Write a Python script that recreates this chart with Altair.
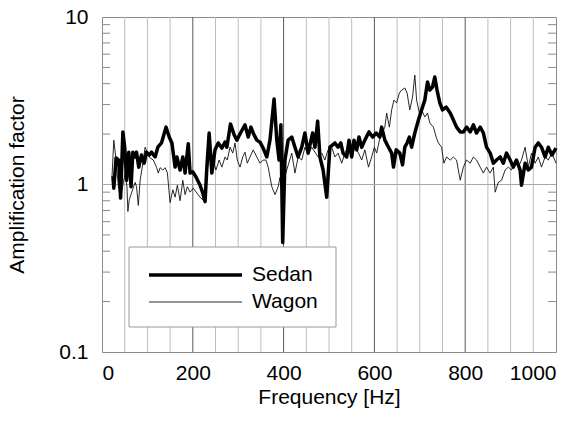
import altair as alt
import pandas as pd

# ---------------- data ----------------
sedan_hz = [24, 26, 31, 37, 41, 46, 50, 54, 59, 64, 68, 73, 76, 81, 87, 93, 98, 104, 109, 117,
            123, 131, 141, 148, 154, 161, 165, 172, 178, 183, 190, 194, 200, 207, 216, 222, 227, 231, 236, 242,
            249, 256, 264, 271, 275, 283, 291, 297, 305, 315, 322, 328, 333, 341, 348, 355, 363, 370, 379, 385,
            390, 394, 398, 403, 410, 418, 425, 432, 440, 447, 454, 464, 469, 475, 480, 487, 495, 502, 513, 520,
            526, 531, 539, 544, 550, 555, 561, 566, 572, 579, 588, 596, 604, 612, 616, 623, 631, 638, 642, 648,
            656, 662, 667, 672, 677, 682, 689, 697, 704, 711, 717, 722, 728, 733, 738, 744, 750, 758, 767, 774,
            781, 789, 796, 803, 811, 818, 825, 833, 840, 847, 855, 862, 869, 877, 884, 891, 899, 906, 913, 921,
            924, 932, 939, 946, 954, 961, 968, 976, 983, 991, 1000]
sedan_amp = [1.12, 0.95, 1.44, 1.40, 0.83, 2.06, 1.67, 1.06, 1.56, 0.97, 1.56, 1.46, 1.56, 1.27, 1.50, 1.34, 1.56, 1.50, 1.56, 1.46,
             1.67, 1.77, 2.20, 1.92, 1.77, 1.27, 1.46, 1.22, 1.46, 1.17, 1.75, 1.17, 1.19, 1.11, 0.99, 0.89, 0.79, 1.27, 2.03, 1.17,
             1.61, 1.77, 1.65, 1.79, 1.67, 2.30, 1.98, 1.84, 2.03, 2.27, 1.92, 2.20, 2.03, 1.84, 1.79, 1.65, 1.46, 1.84, 3.24, 1.84,
             1.40, 2.27, 0.45, 1.40, 1.84, 1.92, 1.67, 1.46, 1.67, 2.03, 1.54, 2.03, 1.67, 2.39, 1.46, 1.22, 0.84, 1.67, 1.77, 1.67,
             1.77, 1.54, 1.46, 1.84, 1.46, 1.84, 1.61, 1.92, 1.67, 1.84, 2.06, 1.92, 2.03, 1.92, 2.20, 1.84, 1.67, 1.54, 1.27, 1.61,
             1.54, 1.31, 1.67, 1.77, 1.92, 1.67, 2.03, 2.43, 2.79, 3.19, 4.09, 3.66, 3.82, 4.38, 3.66, 3.07, 2.79, 2.90, 2.67, 2.43,
             2.20, 2.06, 2.06, 2.20, 2.06, 2.27, 2.03, 2.20, 2.03, 1.67, 1.54, 1.34, 1.40, 1.46, 1.34, 1.54, 1.40, 1.27, 1.40, 1.22,
             0.99, 1.34, 1.22, 1.27, 1.67, 1.77, 1.67, 1.46, 1.67, 1.50, 1.65]

wagon_hz = [22, 26, 31, 36, 41, 51, 55, 57, 60, 65, 73, 76, 80, 84, 90, 95, 100, 106, 113, 120,
            124, 128, 134, 139, 144, 148, 150, 156, 161, 166, 172, 178, 183, 188, 194, 201, 209, 216, 222, 229,
            238, 244, 251, 258, 264, 271, 276, 282, 288, 293, 298, 304, 310, 315, 320, 326, 333, 341, 348, 355,
            361, 366, 374, 381, 388, 392, 398, 404, 410, 418, 425, 432, 440, 447, 454, 462, 469, 476, 484, 491,
            498, 506, 513, 520, 528, 535, 542, 550, 557, 565, 572, 579, 587, 594, 600, 605, 611, 617, 623, 627,
            633, 638, 643, 649, 655, 660, 667, 672, 678, 684, 689, 693, 699, 704, 711, 717, 722, 730, 736, 741,
            748, 753, 759, 767, 774, 781, 789, 796, 803, 811, 818, 825, 833, 840, 847, 855, 862, 866, 873, 880,
            888, 895, 902, 910, 917, 924, 932, 939, 946, 954, 961, 968, 976, 983, 991, 1000]
wagon_amp = [1.11, 1.84, 1.40, 0.97, 0.84, 1.17, 0.97, 0.69, 0.81, 0.89, 1.03, 0.97, 0.75, 1.06, 1.34, 1.67, 1.54, 1.44, 1.40, 1.27,
             1.17, 1.26, 1.22, 1.26, 1.17, 0.89, 0.78, 0.93, 0.84, 0.99, 0.80, 1.06, 0.87, 0.97, 0.90, 0.95, 0.89, 0.84, 0.81, 1.06,
             1.67, 1.40, 1.22, 1.40, 1.27, 1.46, 1.40, 1.67, 1.54, 1.77, 1.40, 1.27, 1.46, 1.56, 1.34, 1.46, 1.61, 1.46, 1.34, 1.40,
             1.40, 1.27, 0.97, 0.87, 0.97, 1.10, 0.80, 1.15, 1.30, 1.54, 1.17, 1.46, 1.40, 1.67, 1.50, 1.67, 1.56, 1.46, 1.54, 1.40,
             1.61, 1.67, 1.46, 1.54, 1.34, 1.54, 1.67, 1.46, 1.67, 1.54, 1.40, 1.61, 1.27, 1.46, 1.67, 1.54, 1.84, 2.03, 2.20, 2.67,
             2.20, 2.79, 3.19, 3.07, 3.52, 3.66, 3.77, 3.52, 2.79, 3.33, 4.50, 3.19, 2.67, 2.79, 2.53, 2.67, 2.33, 2.20, 1.92, 1.77,
             1.67, 1.34, 1.46, 1.40, 1.46, 1.40, 1.06, 1.27, 1.40, 1.34, 1.46, 1.40, 1.27, 1.17, 1.27, 1.17, 1.27, 0.90, 1.03, 1.06,
             1.22, 1.27, 1.22, 1.40, 1.27, 1.40, 1.67, 1.27, 1.54, 1.34, 1.46, 1.27, 1.46, 1.40, 1.54, 1.34]

grid_minor = [50, 100, 150, 250, 300, 350, 450, 500, 550, 650, 700, 750, 850, 900, 950]
grid_major = [200, 400, 600, 800]
x_tick_values = [0, 200, 400, 600, 800, 1000]
y_tick_values = [0.1, 1, 10]
y_minor = [0.2, 0.3, 0.4, 0.5, 0.6, 0.7, 0.8, 0.9, 2, 3, 4, 5, 6, 7, 8, 9]
legend_labels = ["Sedan", "Wagon"]

assert len(sedan_hz) == len(sedan_amp)
assert len(wagon_hz) == len(wagon_amp)

sedan_df = pd.DataFrame({"freq": sedan_hz, "amp": sedan_amp})
wagon_df = pd.DataFrame({"freq": wagon_hz, "amp": wagon_amp})

FONT = "Liberation Sans"
W, H = 454, 335

x_scale = alt.Scale(domain=[0, 1000], nice=False, zero=False)
y_scale = alt.Scale(type="log", domain=[0.1, 10], nice=False)

x_axis = alt.Axis(values=x_tick_values, format="d", title="Frequency [Hz]", ticks=False, domain=False,
                  grid=False, labelFontSize=21, labelFont=FONT, labelColor="#000", labelPadding=10,
                  titleFontSize=21, titleFont=FONT, titleFontWeight="normal", titleColor="#000",
                  titlePadding=3)
y_axis = alt.Axis(values=y_tick_values, format="~g", title="Amplification factor", ticks=False,
                  domain=False, grid=False, labelFontSize=21, labelFont=FONT, labelColor="#000",
                  labelPadding=14, titleFontSize=21, titleFont=FONT, titleFontWeight="normal",
                  titleColor="#000", titlePadding=31)

X = alt.X("freq:Q", scale=x_scale, axis=x_axis)
Y = alt.Y("amp:Q", scale=y_scale, axis=y_axis)

minor_grid = alt.Chart(pd.DataFrame({"freq": grid_minor})).mark_rule(
    color="#bdbdbd", strokeWidth=1).encode(x=X)
major_grid = alt.Chart(pd.DataFrame({"freq": grid_major})).mark_rule(
    color="#5a5a5a", strokeWidth=1).encode(x=X)
one_line = alt.Chart(pd.DataFrame({"amp": [1]})).mark_rule(
    color="#a8a8a8", strokeWidth=1).encode(y=Y)

ymin_df = pd.DataFrame({"amp": y_minor})
left_ticks = alt.Chart(ymin_df).mark_rule(color="#8a8a8a", strokeWidth=1).encode(
    y=Y, x=alt.value(0), x2=alt.value(8))
right_ticks = alt.Chart(ymin_df).mark_rule(color="#8a8a8a", strokeWidth=1).encode(
    y=Y, x=alt.value(W - 8), x2=alt.value(W))

wagon_line = alt.Chart(wagon_df).mark_line(color="#111", strokeWidth=0.9).encode(x=X, y=Y)
sedan_line = alt.Chart(sedan_df).mark_line(color="#000", strokeWidth=3.5, strokeJoin="round").encode(x=X, y=Y)

one = pd.DataFrame({"label": [""]})
leg_box = alt.Chart(one).mark_rect(fill="white", stroke="#9a9a9a", strokeWidth=1).encode(
    x=alt.value(27), x2=alt.value(234), y=alt.value(230), y2=alt.value(310))
leg_sedan = alt.Chart(one).mark_rule(color="#000", strokeWidth=3.5).encode(
    x=alt.value(47), x2=alt.value(140), y=alt.value(258))
leg_wagon = alt.Chart(one).mark_rule(color="#111", strokeWidth=0.9).encode(
    x=alt.value(47), x2=alt.value(140), y=alt.value(285))
leg_t1 = alt.Chart(pd.DataFrame({"label": [legend_labels[0]]})).mark_text(
    align="left", baseline="middle", fontSize=21, font=FONT, color="#000").encode(
    text="label:N", x=alt.value(150), y=alt.value(258))
leg_t2 = alt.Chart(pd.DataFrame({"label": [legend_labels[1]]})).mark_text(
    align="left", baseline="middle", fontSize=21, font=FONT, color="#000").encode(
    text="label:N", x=alt.value(150), y=alt.value(285))

chart = alt.layer(
    minor_grid, major_grid, one_line, left_ticks, right_ticks,
    wagon_line, sedan_line,
    leg_box, leg_sedan, leg_wagon, leg_t1, leg_t2,
).properties(
    width=W, height=H, autosize="none",
    padding={"left": 102, "top": 17, "right": 25, "bottom": 71},
    background="white",
).configure_view(stroke="#8c8c8c", strokeWidth=1)

chart.save("out.html", embed_options={"renderer": "svg", "actions": False})
